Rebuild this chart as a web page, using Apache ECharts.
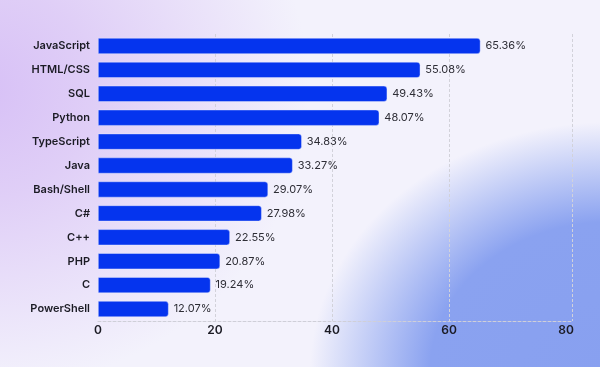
<!DOCTYPE html>
<html>
<head>
<meta charset="utf-8">
<script src="https://cdn.jsdelivr.net/npm/echarts@6/dist/echarts.min.js"></script>
<style>
html,body{margin:0;padding:0;width:600px;height:367px;overflow:hidden;}
body{
  background:
    radial-gradient(ellipse 300px 250px at 610px 372px, rgba(136,160,240,1) 0%, rgba(138,162,240,1) 60%, rgba(142,165,240,0) 100%),
    radial-gradient(ellipse 330px 300px at -20px 90px, rgba(215,192,246,1) 0%, rgba(220,200,246,0.85) 35%, rgba(222,205,246,0) 100%),
    #f3f2fc;
}
#chart{width:600px;height:367px;}
</style>
</head>
<body>
<div id="chart"></div>
<script>
const categories = ["JavaScript","HTML/CSS","SQL","Python","TypeScript","Java","Bash/Shell","C#","C++","PHP","C","PowerShell"];
const values = [65.36,55.08,49.43,48.07,34.83,33.27,29.07,27.98,22.55,20.87,19.24,12.07];
const tickValues = [0,20,40,60,80];
const gridLineValues = [20,40,60,81];
const axisMax = 81;

const chart = echarts.init(document.getElementById('chart'), null, {renderer:'canvas'});
chart.setOption({
  backgroundColor: 'transparent',
  animation: false,
  grid: {left: 98, right: 28, top: 34, bottom: 46, containLabel: false},
  xAxis: {
    type: 'value',
    min: 0,
    max: axisMax,
    interval: 20,
    axisLine: {show: true, lineStyle: {color: '#cfcfd8', type: [3,2], width: 1}},
    axisTick: {show: false},
    splitLine: {show: false},
    axisLabel: {
      showMaxLabel: false,
      margin: 3,
      color: '#1b1b24',
      fontFamily: 'Inter',
      fontSize: 12,
      fontWeight: 600,
      formatter: v => tickValues.includes(v) ? String(v) : ''
    }
  },
  yAxis: {
    type: 'category',
    data: categories,
    inverse: true,
    axisLine: {show: false},
    axisTick: {show: false},
    axisLabel: {
      margin: 8,
      color: '#1b1b24',
      fontFamily: 'Inter',
      fontSize: 11,
      fontWeight: 600
    }
  },
  series: [{
    type: 'line',
    data: [],
    z: 1,
    silent: true,
    markLine: {
      z: 1,
      silent: true,
      symbol: 'none',
      label: {show: false},
      lineStyle: {color: '#d2d2da', type: [3,2], width: 1},
      data: gridLineValues.map(v => ({xAxis: v}))
    }
  }, {
    type: 'bar',
    data: values,
    barWidth: 16,
    z: 10,
    itemStyle: {
      color: '#0534ee',
      borderRadius: [0,3,3,0],
      borderColor: 'rgba(235,238,255,0.7)',
      borderWidth: 0.6
    },
    label: {
      show: true,
      position: 'right',
      distance: 5,
      color: '#2e2e36',
      fontFamily: 'Inter',
      fontSize: 11,
      formatter: p => p.value.toFixed(2) + '%'
    }
  }]
});
</script>
</body>
</html>
